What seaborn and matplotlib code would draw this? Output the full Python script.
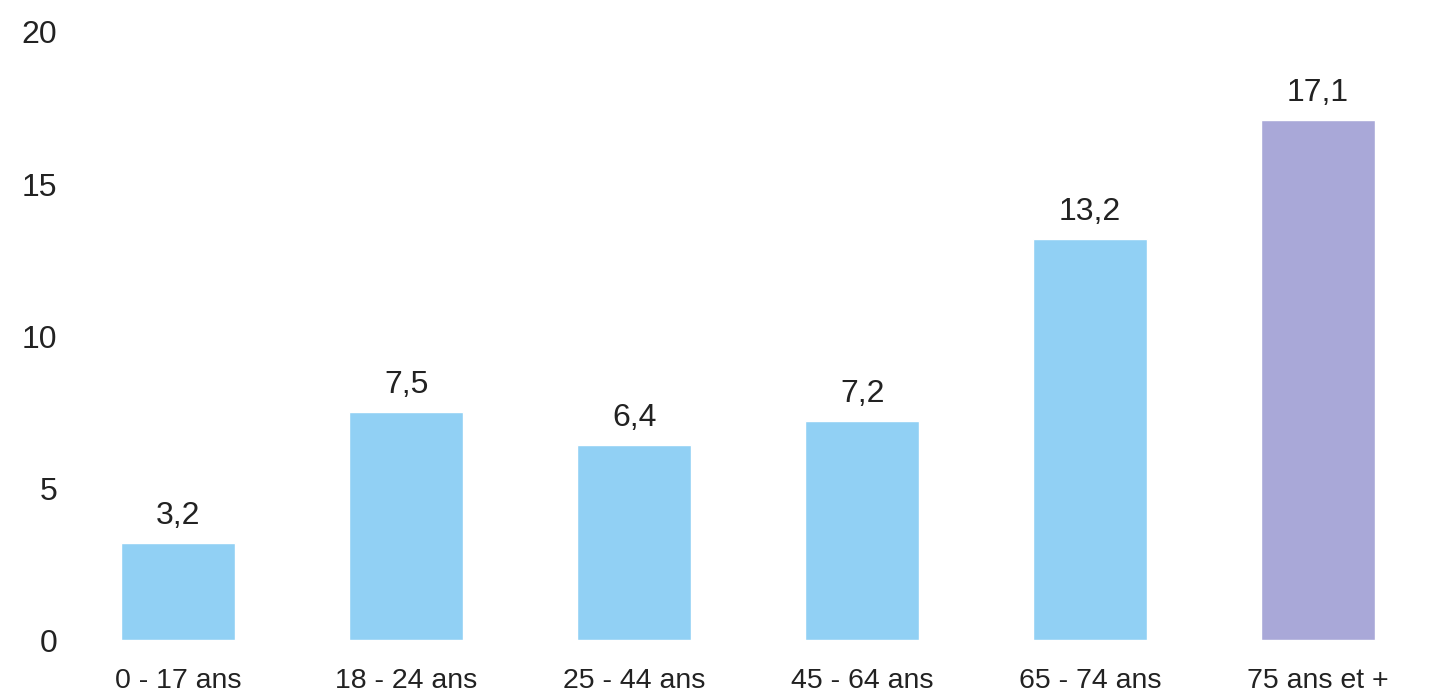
import pandas as pd
import seaborn as sns
import matplotlib.pyplot as plt

# data
categories = ['0 - 17 ans', '18 - 24 ans', '25 - 44 ans', '45 - 64 ans', '65 - 74 ans', '75 ans et +']
values = [3.2, 7.5, 6.4, 7.2, 13.2, 17.1]
labels = ['3,2', '7,5', '6,4', '7,2', '13,2', '17,1']
colors = ['#91d0f4', '#91d0f4', '#91d0f4', '#91d0f4', '#91d0f4', '#a9a8d8']

df = pd.DataFrame({'age': categories, 'val': values})

sns.set_style('white')
plt.rcParams['font.family'] = ['Liberation Sans', 'DejaVu Sans']

fig = plt.figure(figsize=(14.32, 6.95), dpi=100)
ax = fig.add_axes([0.045, 0.079, 0.947, 0.875])

sns.barplot(x='age', y='val', data=df, hue='age', palette=colors, legend=False,
            width=0.5, saturation=1, ax=ax)

for i, (v, t) in enumerate(zip(values, labels)):
    ax.text(i, v + 0.4, t, ha='center', va='bottom', fontsize=23, color='#222222')

ax.set_ylim(0, 20)
ax.set_xlim(-0.5, 5.45)
ax.set_yticks([0, 5, 10, 15, 20])
ax.tick_params(axis='y', labelsize=23, pad=5, length=0, colors='#222222')
ax.tick_params(axis='x', labelsize=20.5, pad=20, length=0, colors='#222222')
ax.set_xlabel('')
ax.set_ylabel('')
sns.despine(left=True, bottom=True)

plt.savefig('out.png', dpi=100)
